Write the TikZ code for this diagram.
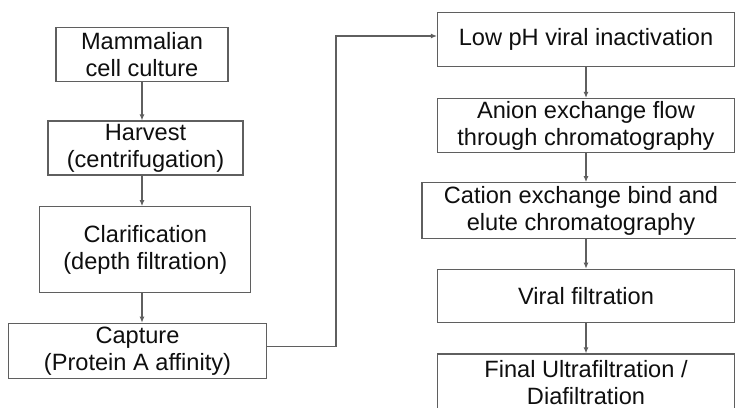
\documentclass[tikz,border=0pt]{standalone}
\usepackage{fontspec}
\setmainfont{Liberation Sans}
\usetikzlibrary{arrows.meta}
\definecolor{linegray}{RGB}{95,95,95}
\definecolor{textblack}{RGB}{15,15,15}
\begin{document}
\begin{tikzpicture}[x=1pt,y=-1pt,
  box/.style={draw=linegray, line width=1.2pt, fill=white, align=center,
    font=\fontsize{23.6}{27}\selectfont, text=textblack, inner sep=0pt},
  flow/.style={draw=linegray, line width=1.1pt, -{Latex[length=6pt,width=5pt]}}]
\useasboundingbox[fill=white] (0,0) rectangle (736,407);
% left column
\node[box, minimum width=172pt, minimum height=54pt] (A) at (142,54.5) {Mammalian\\cell culture};
\node[box, minimum width=195pt, minimum height=54pt] (B) at (145.5,148) {Harvest\\(centrifugation)};
\node[box, minimum width=211pt, minimum height=86pt] (C) at (145.3,249.7) {Clarification\\(depth filtration)};
\node[box, minimum width=258pt, minimum height=55pt] (D) at (137.5,350.8) {Capture\\(Protein A affinity)};
% right column
\node[box, minimum width=297pt, minimum height=54pt] (E) at (586,39.2) {Low pH viral inactivation};
\node[box, minimum width=297pt, minimum height=54pt] (F) at (586,125.5) {Anion exchange flow\\through chromatography};
\node[box, minimum width=318pt, minimum height=55.6pt] (G) at (581,210.5) {Cation exchange bind and\\elute chromatography};
\node[box, minimum width=297pt, minimum height=53.4pt] (H) at (586,296) {Viral filtration};
\node[box, minimum width=297pt, minimum height=57pt] (I) at (586,382.5) {Final Ultrafiltration /\\Diafiltration};
% connectors
\draw[flow] (A.south) -- (A.south |- B.north);
\draw[flow] (A.south |- B.south) -- (A.south |- C.north);
\draw[flow] (A.south |- C.south) -- (A.south |- D.north);
\coordinate (k) at (336,36);
\draw[flow] ([yshift=4pt]D.east) -| (k) -- (k -| E.west);
\draw[flow] (E.south) -- (E.south |- F.north);
\draw[flow] (F.south) -- (F.south |- G.north);
\draw[flow] (F.south |- G.south) -- (H.north);
\draw[flow] (H.south) -- (I.north);
\end{tikzpicture}
\end{document}
